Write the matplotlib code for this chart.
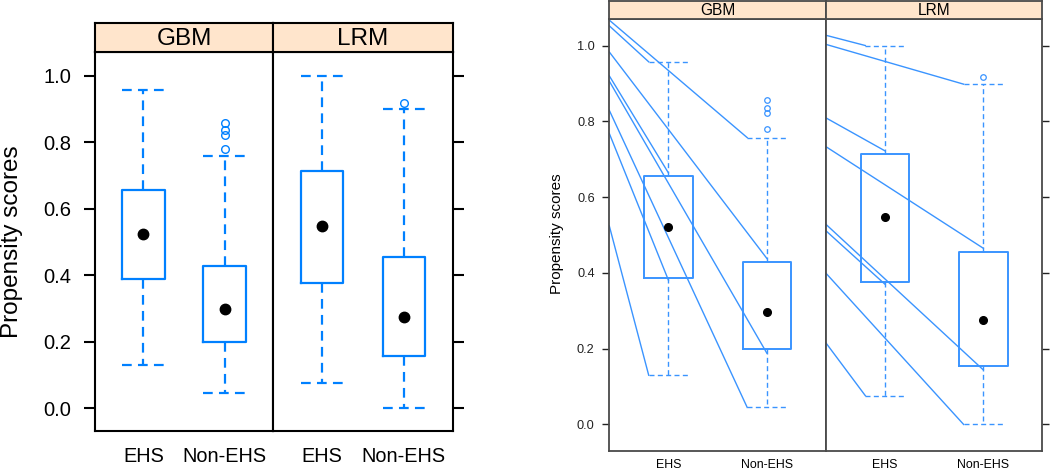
import matplotlib
matplotlib.use("Agg")
import matplotlib.pyplot as plt

plt.rcParams['font.family'] = ['Liberation Sans', 'DejaVu Sans']
plt.rcParams['lines.scale_dashes'] = False

# ---------------- data ----------------
models = ['GBM', 'LRM']
categories = ['EHS', 'Non-EHS']
yticks = [0.0, 0.2, 0.4, 0.6, 0.8, 1.0]
ytick_labels = ['0.0', '0.2', '0.4', '0.6', '0.8', '1.0']

gbm_lower = [0.130, 0.045]
gbm_q1 = [0.387, 0.198]
gbm_median = [0.522, 0.298]
gbm_q3 = [0.656, 0.428]
gbm_upper = [0.957, 0.757]
gbm_outliers = [[], [0.780, 0.821, 0.836, 0.856]]

lrm_lower = [0.075, 0.0]
lrm_q1 = [0.375, 0.155]
lrm_median = [0.547, 0.275]
lrm_q3 = [0.714, 0.455]
lrm_upper = [1.000, 0.898]
lrm_outliers = [[], [0.917]]

# connector lines in right-hand figure: start value at panel's left edge -> end point
gbm_link_start = [1.067, 1.052, 0.983, 0.920, 0.906, 0.829, 0.768, 0.524]
gbm_link_end_x = [1.8, 0.8, 2.0, 1.0, 2.0, 1.8, 1.0, 0.8]
gbm_link_end_y = [0.757, 0.957, 0.438, 0.664, 0.188, 0.045, 0.381, 0.130]
lrm_link_start = [1.027, 1.003, 0.809, 0.733, 0.528, 0.511, 0.399, 0.215]
lrm_link_end_x = [0.8, 1.8, 1.0, 2.0, 2.0, 1.0, 1.8, 0.8]
lrm_link_end_y = [1.000, 0.898, 0.722, 0.465, 0.144, 0.370, 0.000, 0.076]

stats_data = {
    'GBM': (gbm_lower, gbm_q1, gbm_median, gbm_q3, gbm_upper, gbm_outliers),
    'LRM': (lrm_lower, lrm_q1, lrm_median, lrm_q3, lrm_upper, lrm_outliers),
}
links = {
    'GBM': (gbm_link_start, gbm_link_end_x, gbm_link_end_y),
    'LRM': (lrm_link_start, lrm_link_end_x, lrm_link_end_y),
}

# ---------------- layout ----------------
W, H = 1050, 470
fig = plt.figure(figsize=(W / 100, H / 100), dpi=100)


def px_axes(x0, y0, x1, y1, **kw):
    return fig.add_axes([x0 / W, 1 - y1 / H, (x1 - x0) / W, (y1 - y0) / H], **kw)


STRIP = '#ffe5cc'
XLIM = (0.4, 2.6)
YLIM = (-0.07, 1.07)


def draw_panel(ax, model, st):
    lo, q1, med, q3, hi, outl = stats_data[model]
    positions = [1, 2]
    stats = []
    for i, c in enumerate(categories):
        stats.append(dict(med=med[i], q1=q1[i], q3=q3[i], whislo=lo[i],
                          whishi=hi[i], fliers=outl[i], label=c))
    ax.bxp(stats, positions=positions, widths=st['boxw'], capwidths=st['capw'],
           showfliers=True, patch_artist=False,
           boxprops=dict(color=st['blue'], linewidth=st['boxlw']),
           whiskerprops=dict(color=st['blue'], linewidth=st['whlw'], linestyle=st['dash']),
           capprops=dict(color=st['blue'], linewidth=st['whlw'], linestyle=st['dash']),
           medianprops=dict(visible=False),
           flierprops=dict(marker='o', markerfacecolor='none', markeredgecolor=st['blue'],
                           markersize=st['fms'], markeredgewidth=st['fmew'], linestyle='none'))
    ax.plot(positions, med, 'o', color='black', markersize=st['dotms'], zorder=5,
            linestyle='none')
    ax.set_xlim(*XLIM)
    ax.set_ylim(*YLIM)
    ax.set_xticks(positions)
    ax.set_xticklabels(categories, fontsize=st['xfs'])
    ax.tick_params(axis='x', length=0, pad=st['xpad'], colors='black')
    for s in ax.spines.values():
        s.set_color(st['frame'])
        s.set_linewidth(st['framelw'])


def make_strip(x0, x1, y0, y1, text, st):
    sax = px_axes(x0, y0, x1, y1)
    sax.set_facecolor(STRIP)
    sax.set_xticks([])
    sax.set_yticks([])
    for s in sax.spines.values():
        s.set_color(st['frame'])
        s.set_linewidth(st['framelw'])
    sax.text(0.5, 0.45, text, ha='center', va='center', fontsize=st['sfs'],
             transform=sax.transAxes, color='black')
    return sax


left_style = dict(blue='#0080ff', boxw=0.52, capw=0.52, boxlw=1.6, whlw=1.6,
                  dash=(0, (7.0, 4.5)), fms=5.5, fmew=1.0, dotms=7.5, xfs=14.3,
                  xpad=11, frame='black', framelw=1.5, sfs=17.5, yfs=14.5,
                  ylen=8, ypad=9)
right_style = dict(blue='#3a94ff', boxw=0.495, capw=0.4, boxlw=1.4, whlw=1.0,
                   dash=(0, (3.6, 2.4)), fms=4.0, fmew=0.9, dotms=5.5, xfs=8.9,
                   xpad=5.5, frame='#4a4a4a', framelw=1.3, sfs=11.2, yfs=9.2,
                   ylen=5, ypad=5.5)

# ---------- left figure ----------
lx0, lxm, lx1 = 94.7, 273.3, 452.7
ly_strip, ly0, ly1 = 22.7, 52.3, 431.3
axL1 = px_axes(lx0, ly0, lxm, ly1)
axL2 = px_axes(lxm, ly0, lx1, ly1)
draw_panel(axL1, 'GBM', left_style)
draw_panel(axL2, 'LRM', left_style)
axL1.set_yticks(yticks)
axL1.set_yticklabels(ytick_labels, fontsize=left_style['yfs'])
axL1.tick_params(axis='y', direction='out', length=left_style['ylen'], width=1.5,
                 pad=left_style['ypad'], colors='black')
axL2.yaxis.tick_right()
axL2.set_yticks(yticks)
axL2.set_yticklabels([])
axL2.tick_params(axis='y', direction='out', length=left_style['ylen'], width=1.5)
make_strip(lx0, lxm, ly_strip, ly0, models[0], left_style)
make_strip(lxm, lx1, ly_strip, ly0, models[1], left_style)
fig.text(12 / W, 1 - 242 / H, 'Propensity scores', rotation=90, ha='center',
         va='center', fontsize=17.5, color='black')

# ---------- right figure ----------
rx0, rxm, rx1 = 609.3, 826.0, 1042.3
ry_strip, ry0, ry1 = 0.6, 19.0, 451.0
axR1 = px_axes(rx0, ry0, rxm, ry1)
axR2 = px_axes(rxm, ry0, rx1, ry1)
for ax, m in ((axR1, 'GBM'), (axR2, 'LRM')):
    ls, ex, ey = links[m]
    for s, x2, y2 in zip(ls, ex, ey):
        ax.plot([XLIM[0], x2], [s, y2], color=right_style['blue'], linewidth=1.0,
                zorder=1)
draw_panel(axR1, 'GBM', right_style)
draw_panel(axR2, 'LRM', right_style)
axR1.set_yticks(yticks)
axR1.set_yticklabels(ytick_labels, fontsize=right_style['yfs'])
axR1.tick_params(axis='y', direction='out', length=right_style['ylen'], width=1.0,
                 pad=right_style['ypad'], colors='#222222')
axR2.yaxis.tick_right()
axR2.set_yticks(yticks)
axR2.set_yticklabels([])
axR2.tick_params(axis='y', direction='out', length=right_style['ylen'], width=1.0,
                 colors='#222222')
make_strip(rx0, rxm, ry_strip, ry0, models[0], right_style)
make_strip(rxm, rx1, ry_strip, ry0, models[1], right_style)
fig.text(557 / W, 1 - 234 / H, 'Propensity scores', rotation=90, ha='center',
         va='center', fontsize=11, color='black')

fig.savefig('out.png', dpi=100)
